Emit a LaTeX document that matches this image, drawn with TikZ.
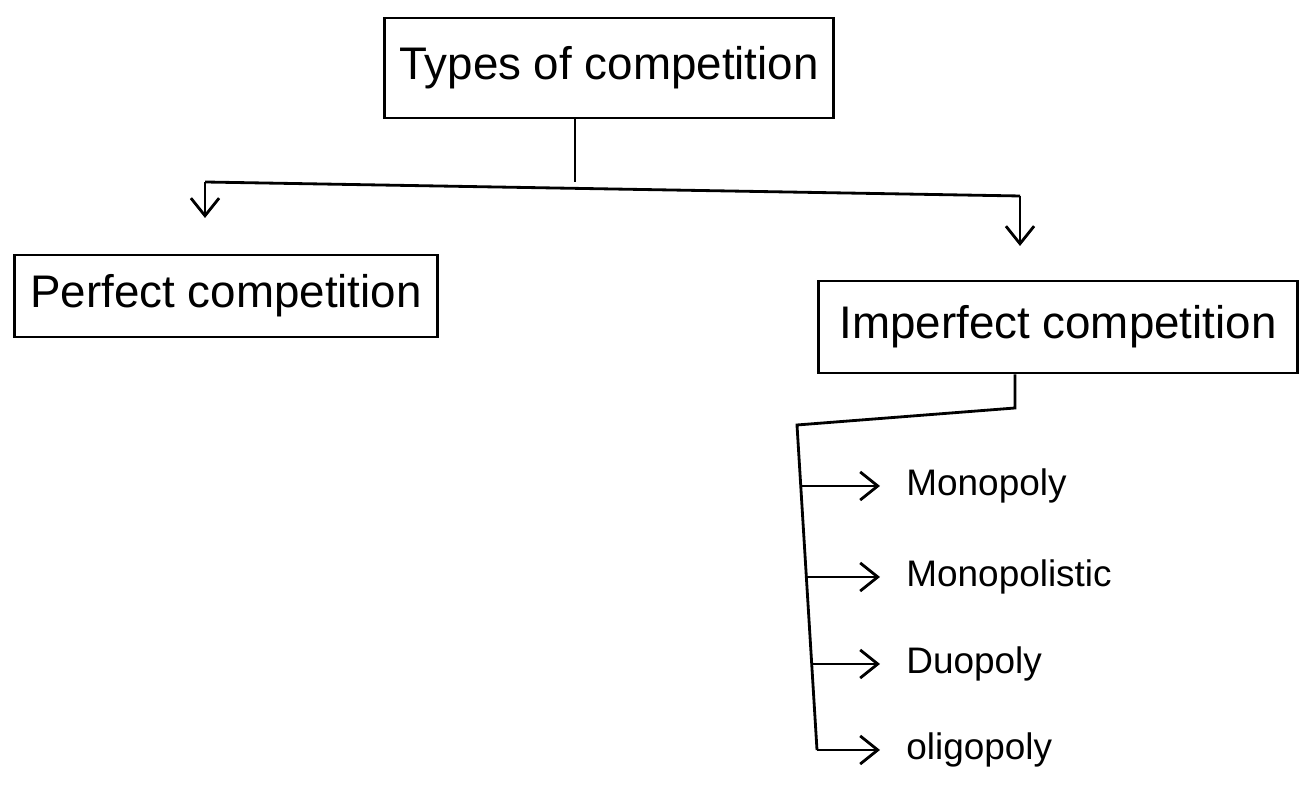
\documentclass[tikz,border=0pt]{standalone}
\usepackage{fontspec}
\setmainfont{Liberation Sans}
\usetikzlibrary{arrows.meta}
\tikzset{
  every picture/.style={line width=0.8pt},
  boxnode/.style={draw, rectangle, inner sep=0pt, align=center},
  item/.style={anchor=west, inner xsep=0.25cm, inner ysep=0pt},
  arr/.style={-{Straight Barb[length=5pt,width=8pt]}},
  bigtext/.style={font=\fontsize{13}{15}\selectfont},
  smalltext/.style={font=\fontsize{10.5}{13}\selectfont}
}
\begin{document}
\begin{tikzpicture}[x=0.01cm,y=-0.01cm]
\useasboundingbox (0,0) rectangle (1302,795);
% boxes
\node[boxnode, bigtext, minimum width=4.48cm, minimum height=1.0cm] (top) at (609,68) {Types of competition};
\node[boxnode, bigtext, minimum width=4.22cm, minimum height=0.82cm] (perf) at (226,296) {Perfect competition};
\node[boxnode, bigtext, minimum width=4.78cm, minimum height=0.92cm] (imp) at (1058,327) {Imperfect competition};
% upper connectors
\coordinate (j) at (575,182);
\coordinate (L) at (205,182);
\coordinate (La) at (205,218);
\coordinate (R) at (1020,196);
\coordinate (Ra) at (1020,246);
\draw (top.south -| j) -- (j);
\draw (L) -- (R);
\draw[arr] (L) -- (La);
\draw[arr] (R) -- (Ra);
% list items
\node[item, smalltext] (mono) at (880,486) {Monopoly};
\node[item, smalltext] (monol) at (880,577) {Monopolistic};
\node[item, smalltext] (duo) at (880,664) {Duopoly};
\node[item, smalltext] (oli) at (880,750) {oligopoly};
% lower connectors
\coordinate (b1) at (1015,408);
\coordinate (b2) at (797,425);
\coordinate (b3) at (817,750);
\coordinate (m1) at (801,486);
\coordinate (m2) at (806,577);
\coordinate (m3) at (812,664);
\draw (imp.south -| b1) -- (b1) -- (b2) -- (b3);
\draw[arr] (m1) -- (mono.west);
\draw[arr] (m2) -- (monol.west);
\draw[arr] (m3) -- (duo.west);
\draw[arr] (b3) -- (oli.west);
\end{tikzpicture}
\end{document}
